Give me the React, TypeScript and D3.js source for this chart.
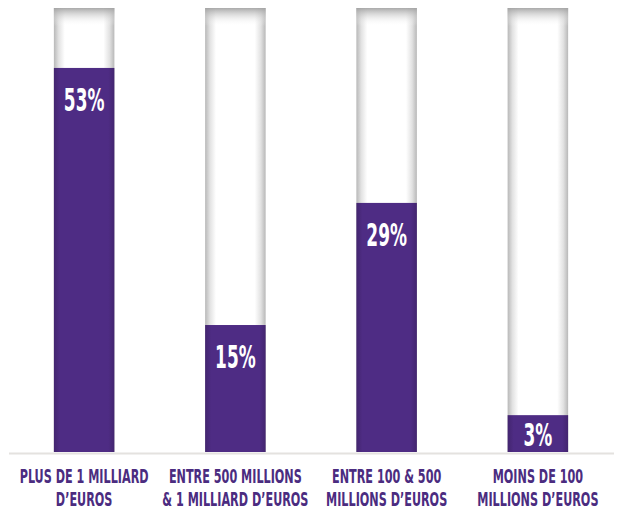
import React from "react";
import * as d3 from "d3";

// Categories (two-line labels)
const categoryLine1 = ["PLUS DE 1 MILLIARD", "ENTRE 500 MILLIONS", "ENTRE 100 & 500", "MOINS DE 100"];
const categoryLine2 = ["D\u2019EUROS", "& 1 MILLIARD D\u2019EUROS", "MILLIONS D\u2019EUROS", "MILLIONS D\u2019EUROS"];
// Printed share labels
const shareLabels = [53, 15, 29, 3];
// Graphic fill level of each gauge (0-100 of the gauge height), as drawn in the picture
const fillLevels = [86.5, 28.6, 56.1, 8.3];

const W = 622;
const H = 511;
const PURPLE = "#4e2c84";
const TEXT_PURPLE = "#4b2c80";

export default function App() {
  const x = d3
    .scaleBand<number>()
    .domain(d3.range(categoryLine1.length))
    .range([8.5, 613.5])
    .paddingInner(0.6)
    .paddingOuter(0.3);
  const y = d3.scaleLinear().domain([0, 100]).range([452, 8]);
  const bw = x.bandwidth();

  const catFont = "'DejaVu Sans', sans-serif";
  return (
    <svg
      width={W}
      height={H}
      style={{ position: "absolute", left: 0, top: 0, background: "#fff" }}
    >
      <defs>
        <linearGradient id="bgH" x1="0" x2="1" y1="0" y2="0">
          <stop offset="0%" stopColor="#b8b8b8" />
          <stop offset="8%" stopColor="#e2e2e2" />
          <stop offset="18%" stopColor="#ffffff" />
          <stop offset="82%" stopColor="#ffffff" />
          <stop offset="92%" stopColor="#e2e2e2" />
          <stop offset="100%" stopColor="#b8b8b8" />
        </linearGradient>
        <linearGradient id="bgV" x1="0" x2="0" y1="0" y2="1">
          <stop offset="0%" stopColor="#a0a0a0" stopOpacity="0.9" />
          <stop offset="100%" stopColor="#ffffff" stopOpacity="0" />
        </linearGradient>
        <linearGradient id="barH" x1="0" x2="1" y1="0" y2="0">
          <stop offset="0%" stopColor="#43256f" />
          <stop offset="10%" stopColor={PURPLE} />
          <stop offset="90%" stopColor={PURPLE} />
          <stop offset="100%" stopColor="#43256f" />
        </linearGradient>
      </defs>

      {fillLevels.map((v, i) => {
        const x0 = x(i)!;
        const cx = x0 + bw / 2;
        const top = y(v);
        const labelY = Math.min(top + 43, y(0) - 6);
        return (
          <g key={i}>
            <rect x={x0} y={y(100)} width={bw} height={y(0) - y(100)} fill="url(#bgH)" />
            <rect x={x0} y={y(100)} width={bw} height={18} fill="url(#bgV)" />
            <rect x={x0} y={top} width={bw} height={y(0) - top} fill="url(#barH)" />
            <text
              transform={`translate(${cx},${labelY}) scale(0.53,1)`}
              textAnchor="middle"
              fill="#fff"
              fontFamily={catFont}
              fontWeight="bold"
              fontSize={32}
            >
              {shareLabels[i]}%
            </text>
          </g>
        );
      })}

      <line x1={9} x2={614} y1={453.5} y2={453.5} stroke="#e4e2df" strokeWidth={2} />

      {categoryLine1.map((c, i) => {
        const cx = x(i)! + bw / 2;
        return (
          <g key={"c" + i} fill={TEXT_PURPLE} fontFamily={catFont} fontWeight="bold" fontSize={19.5}>
            <text transform={`translate(${cx},483) scale(0.575,1)`} textAnchor="middle">
              {c}
            </text>
            <text transform={`translate(${cx},506) scale(0.575,1)`} textAnchor="middle">
              {categoryLine2[i]}
            </text>
          </g>
        );
      })}
    </svg>
  );
}
